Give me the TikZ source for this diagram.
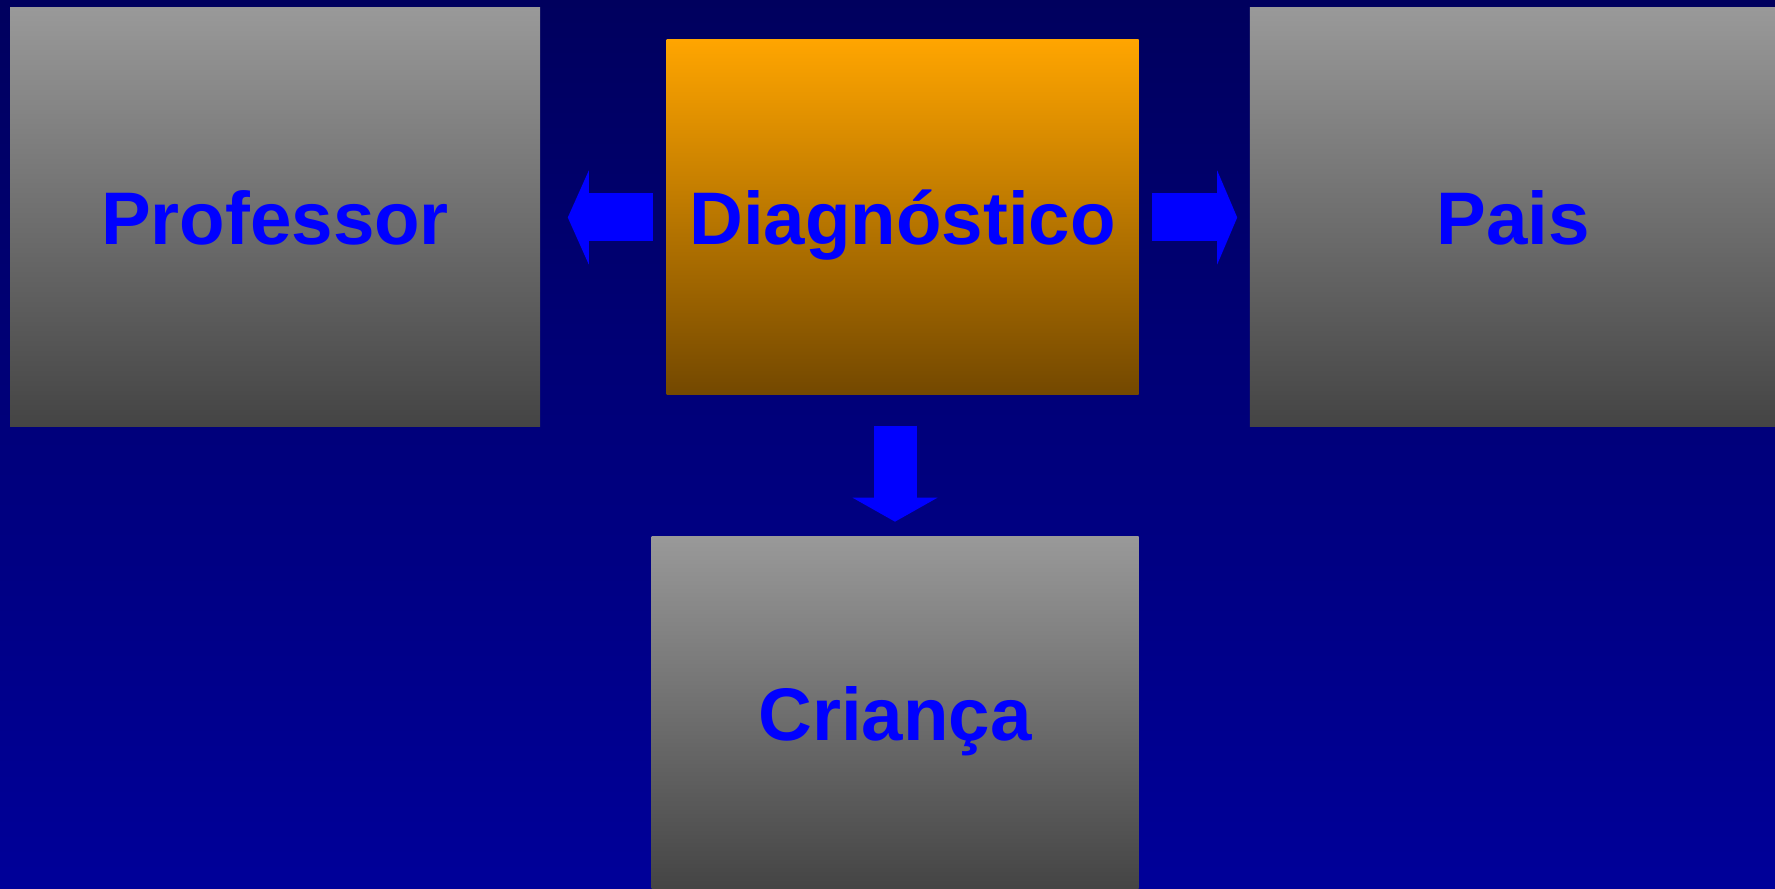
\documentclass[tikz,border=0pt]{standalone}
\usepackage{xcolor}
\usepackage{fontspec}
\setmainfont{Liberation Sans}
\usepackage{tikz}
\usetikzlibrary{positioning,arrows.meta}

\definecolor{bgtop}{HTML}{00005E}
\definecolor{bgbot}{HTML}{000099}
\definecolor{greytop}{HTML}{999999}
\definecolor{greybot}{HTML}{444444}
\definecolor{orangetop}{HTML}{FFA500}
\definecolor{orangebot}{HTML}{734800}
\definecolor{labelblue}{HTML}{0000FF}

\begin{document}
\begin{tikzpicture}[node distance=1.25cm]

    % Define styles
    \tikzstyle{panel} = [rectangle, top color=greytop, bottom color=greybot, text=labelblue, font=\fontsize{21.2}{26}\selectfont\bfseries, text height=15.2pt, text depth=0pt, inner sep=0pt, minimum width=5.3cm, minimum height=4.19cm]
    \tikzstyle{focus} = [panel, top color=orangetop, bottom color=orangebot, minimum width=4.72cm, minimum height=3.55cm]
    \tikzstyle{flow} = [draw=labelblue, line width=0.48cm, -{Triangle[length=0.21cm, width=0.94cm, line width=0pt]}]

    % Background
    \useasboundingbox (0,0) rectangle (17.75,8.89);
    \fill [top color=bgtop, bottom color=bgbot] (0,0) rectangle (17.75,8.89);

    % Centre
    \node [focus] (diag) at (9.025,6.715) {Diagnóstico};

    % Sides
    \node [panel, left=of diag] (prof) {Professor};
    \node [panel, right=1.10cm of diag, minimum width=5.27cm] (pais) {Pais};
    \node [panel, below=1.40cm of diag.south east, anchor=north east, minimum width=4.87cm, minimum height=3.54cm] (child) {Criança};

    % Flows
    \draw [flow, shorten <=0.13cm, shorten >=0.27cm] (diag) -- (prof);
    \draw [flow, shorten <=0.13cm, shorten >=0.12cm, -{Triangle[length=0.20cm, width=0.94cm, line width=0pt]}] (diag) -- (pais);
    \draw [flow, line width=0.43cm, shorten <=0.30cm, shorten >=0.14cm, -{Triangle[length=0.24cm, width=0.85cm, line width=0pt]}] (diag.south -| child.north) -- (child.north);

\end{tikzpicture}
\end{document}
